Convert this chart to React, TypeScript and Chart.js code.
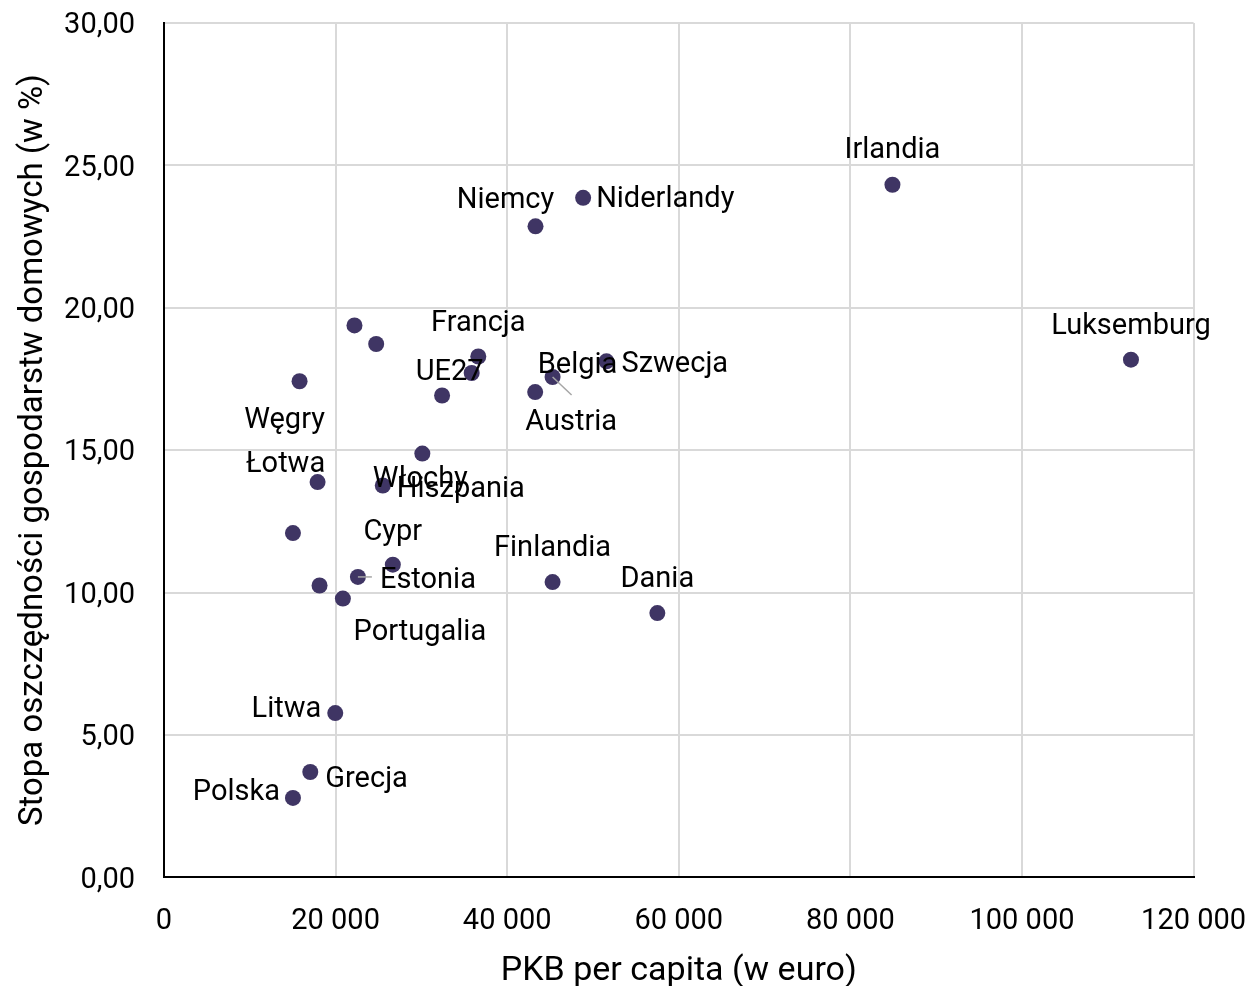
import React, { useEffect, useRef } from 'react';
import { Chart, registerables } from 'chart.js';

Chart.register(...registerables);

// ---- data ----
const countries = [
  'Irlandia', 'Niderlandy', 'Niemcy', '', '', 'Luksemburg', 'Szwecja', 'Francja', 'UE27',
  'Belgia', 'Austria', 'Węgry', '', 'Włochy', 'Łotwa', 'Hiszpania', '', 'Cypr', 'Estonia',
  '', 'Portugalia', 'Finlandia', 'Dania', 'Litwa', 'Grecja', 'Polska',
];
const gdpPerCapita = [
  84900, 48850, 43300, 22200, 24730, 112700, 51570, 36630, 35860,
  45290, 43260, 15800, 32410, 30110, 17900, 25500, 15030, 26670, 22600,
  18130, 20850, 45290, 57500, 19960, 17050, 15030,
];
const savingsRate = [
  24.32, 23.86, 22.86, 19.38, 18.73, 18.18, 18.12, 18.29, 17.71,
  17.57, 17.04, 17.42, 16.92, 14.88, 13.88, 13.76, 12.09, 10.98, 10.55,
  10.25, 9.79, 10.37, 9.28, 5.77, 3.70, 2.79,
];
const xTickLabels = ['0', '20 000', '40 000', '60 000', '80 000', '100 000', '120 000'];
const yTickLabels = ['0,00', '5,00', '10,00', '15,00', '20,00', '25,00', '30,00'];
const xTitle = 'PKB per capita (w euro)';
const yTitle = 'Stopa oszczędności gospodarstw domowych (w %)';

// ---- label placement (pixel offsets from the point, styling only) ----
type Place = { dx: number; dy: number; align: CanvasTextAlign; leader?: [number, number] };
const placement: Record<string, Place> = {
  Irlandia: { dx: 0, dy: -37, align: 'center' },
  Niderlandy: { dx: 13, dy: -1, align: 'left' },
  Niemcy: { dx: -30, dy: -29, align: 'center' },
  Luksemburg: { dx: 0, dy: -36, align: 'center' },
  Szwecja: { dx: 15, dy: 0, align: 'left' },
  Francja: { dx: 0, dy: -36, align: 'center' },
  UE27: { dx: -22, dy: -3, align: 'center' },
  Belgia: { dx: 25, dy: -14, align: 'center', leader: [19, 18] },
  Austria: { dx: 36, dy: 28, align: 'center' },
  'Węgry': { dx: -15, dy: 36, align: 'center' },
  'Włochy': { dx: -2, dy: 23, align: 'center' },
  'Łotwa': { dx: -32, dy: -20, align: 'center' },
  Hiszpania: { dx: 14, dy: 1, align: 'left' },
  Cypr: { dx: 0, dy: -35, align: 'center' },
  Estonia: { dx: 22, dy: 1, align: 'left', leader: [14, 0] },
  Portugalia: { dx: 77, dy: 31, align: 'center' },
  Finlandia: { dx: 0, dy: -36, align: 'center' },
  Dania: { dx: 0, dy: -36, align: 'center' },
  Litwa: { dx: -14, dy: -6, align: 'right' },
  Grecja: { dx: 15, dy: 5, align: 'left' },
  Polska: { dx: -13, dy: -8, align: 'right' },
};
const TEXT_SHIFT = 3;

const FONT = 'Roboto, "Open Sans", sans-serif';

const labelPlugin = {
  id: 'pointLabels',
  afterDatasetsDraw(chart: any) {
    const ctx = chart.ctx as CanvasRenderingContext2D;
    const meta = chart.getDatasetMeta(0);
    ctx.save();
    ctx.font = `29px ${FONT}`;
    ctx.fillStyle = '#000000';
    ctx.textBaseline = 'middle';
    meta.data.forEach((el: any, i: number) => {
      const name = countries[i];
      if (!name) return;
      const p = placement[name] || { dx: 0, dy: -36, align: 'center' as CanvasTextAlign };
      if (p.leader) {
        ctx.strokeStyle = '#a6a6a6';
        ctx.lineWidth = 1.5;
        ctx.beginPath();
        ctx.moveTo(el.x, el.y);
        ctx.lineTo(el.x + p.leader[0], el.y + p.leader[1]);
        ctx.stroke();
      }
      ctx.textAlign = p.align;
      ctx.fillText(name, el.x + p.dx, el.y + p.dy + TEXT_SHIFT);
    });
    ctx.restore();
  },
};

export default function App() {
  const ref = useRef<HTMLCanvasElement | null>(null);

  useEffect(() => {
    if (!ref.current) return;
    const chart = new Chart(ref.current, {
      type: 'scatter',
      data: {
        datasets: [
          {
            data: gdpPerCapita.map((x, i) => ({ x, y: savingsRate[i] })),
            backgroundColor: '#3f3564',
            borderWidth: 0,
            pointRadius: 8,
            pointHoverRadius: 8,
          },
        ],
      },
      options: {
        responsive: false,
        animation: false,
        devicePixelRatio: 1,
        events: [],
        layout: { padding: { top: 23, right: 57.4, left: 0, bottom: 0 } },
        plugins: { legend: { display: false }, tooltip: { enabled: false } },
        scales: {
          x: {
            type: 'linear',
            min: 0,
            max: 120000,
            afterBuildTicks: (scale: any) => {
              scale.ticks = xTickLabels.map((_, i) => ({ value: i * 20000 }));
            },
            ticks: {
              callback: (_v: any, i: number) => xTickLabels[i],
              font: { family: FONT, size: 29 },
              color: '#000000',
              padding: 27,
              maxRotation: 0,
              autoSkip: false,
            },
            grid: { color: '#d9d9d9', lineWidth: 2, drawTicks: false },
            border: { display: true, color: '#000000', width: 2 },
            title: {
              display: true,
              text: xTitle,
              font: { family: FONT, size: 34, lineHeight: 0.82 },
              color: '#000000',
              padding: { top: 0, bottom: 1 },
            },
            afterFit: (scale: any) => {
              scale.height = 108.6;
              scale.paddingLeft = 0;
              scale.paddingRight = 0;
            },
          },
          y: {
            type: 'linear',
            min: 0,
            max: 30,
            afterBuildTicks: (scale: any) => {
              scale.ticks = yTickLabels.map((_, i) => ({ value: i * 5 }));
            },
            ticks: {
              callback: (_v: any, i: number) => yTickLabels[i],
              font: { family: FONT, size: 29 },
              color: '#000000',
              padding: 29,
              labelOffset: 3,
              autoSkip: false,
            },
            grid: { color: '#d9d9d9', lineWidth: 2, drawTicks: false },
            border: { display: true, color: '#000000', width: 2 },
            title: {
              display: true,
              text: yTitle,
              font: { family: FONT, size: 33, lineHeight: 1 },
              color: '#000000',
              padding: { top: 17, bottom: 0 },
            },
            afterFit: (scale: any) => {
              scale.width = 164;
              scale.paddingTop = 0;
              scale.paddingBottom = 0;
            },
          },
        },
      },
      plugins: [labelPlugin],
    });
    return () => chart.destroy();
  }, []);

  return (
    <div style={{ position: 'absolute', left: 0, top: 0, width: 1251, height: 986, background: '#ffffff' }}>
      <canvas ref={ref} width={1251} height={986} style={{ display: 'block' }} />
    </div>
  );
}
